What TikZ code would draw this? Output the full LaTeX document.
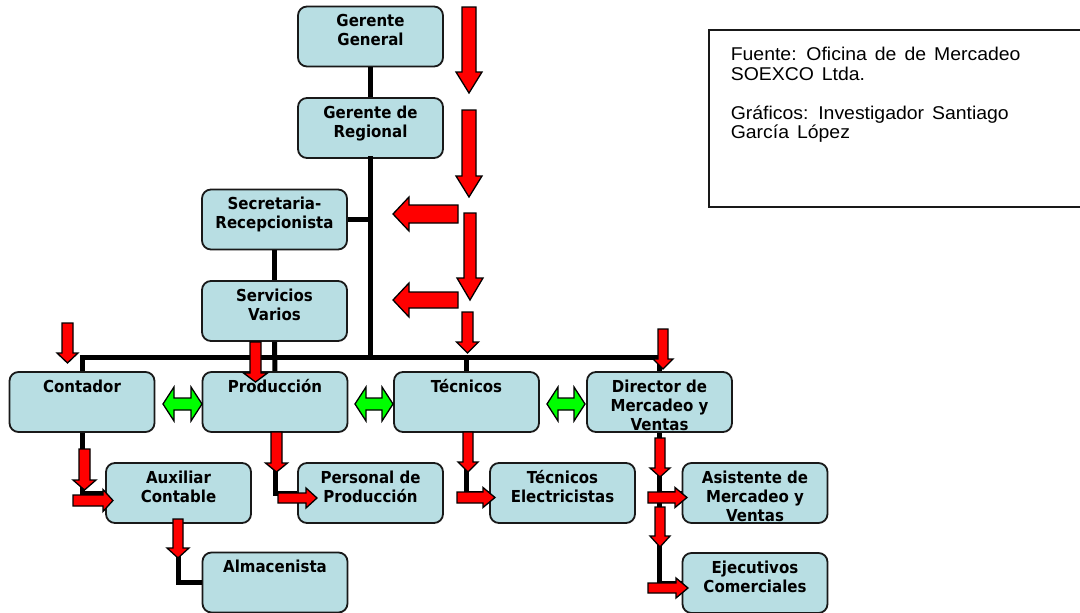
\documentclass[tikz,border=0pt]{standalone}
\usepackage{fontspec}
\newfontfamily\boxfont[FakeStretch=0.91]{DejaVu Sans}
\newfontfamily\notefont[FakeStretch=1.05]{Liberation Sans}
\definecolor{boxblue}{RGB}{184,222,227}
\definecolor{arrred}{RGB}{255,0,0}
\definecolor{arrgreen}{RGB}{0,255,0}
\newcommand\boxtxt[1]{\parbox[c][54pt][t]{140pt}{\centering\rule{0pt}{17pt}#1}}
% down arrow: x, ytop, ytip, shaft half, head half, head length
\newcommand\myDown[6]{\draw[redarr] (#1-#4,#2) -- (#1+#4,#2) -- (#1+#4,#3-#6) -- (#1+#5,#3-#6) -- (#1,#3) -- (#1-#5,#3-#6) -- (#1-#4,#3-#6) -- cycle;}
% right arrow: y, xstart, xtip, shaft half, head half, head length
\newcommand\myRight[6]{\draw[redarr] (#2,#1-#4) -- (#3-#6,#1-#4) -- (#3-#6,#1-#5) -- (#3,#1) -- (#3-#6,#1+#5) -- (#3-#6,#1+#4) -- (#2,#1+#4) -- cycle;}
% left arrow: y, xstart(right), xtip(left), shaft half, head half, head length
\newcommand\myLeft[6]{\draw[redarr] (#2,#1-#4) -- (#3+#6,#1-#4) -- (#3+#6,#1-#5) -- (#3,#1) -- (#3+#6,#1+#5) -- (#3+#6,#1+#4) -- (#2,#1+#4) -- cycle;}
% double arrow: y, xleft, xright, shaft half, head half, head length
\newcommand\myDouble[6]{\draw[greenarr] (#2,#1) -- (#2+#6,#1-#5) -- (#2+#6,#1-#4) -- (#3-#6,#1-#4) -- (#3-#6,#1-#5) -- (#3,#1) -- (#3-#6,#1+#5) -- (#3-#6,#1+#4) -- (#2+#6,#1+#4) -- (#2+#6,#1+#5) -- cycle;}
\begin{document}
\begin{tikzpicture}[x=1pt,y=-1pt,
  box/.style={draw=black!90, line width=1.8pt, rounded corners=9pt, fill=boxblue,
    minimum width=145pt, minimum height=60pt, inner sep=0pt,
    font=\boxfont\bfseries\fontsize{16.5}{19}\selectfont},
  conn/.style={draw=black, line width=5pt, line join=miter},
  redarr/.style={draw=black, line width=1.3pt, fill=arrred, line join=miter},
  greenarr/.style={draw=black, line width=1.3pt, fill=arrgreen, line join=miter},
  note/.style={draw=black!90, line width=1.6pt, anchor=north west, inner sep=0pt,
    minimum width=374pt, minimum height=177pt,
    font=\notefont\fontsize{18.5}{19.5}\selectfont}]
\useasboundingbox (0,0) rectangle (1080,613);
\fill[white] (0,0) rectangle (1080,613);

% boxes
\node[box] (gg)   at (370.5,36.5) {\boxtxt{Gerente\\General}};
\node[box] (gr)   at (370.5,128)  {\boxtxt{Gerente de\\Regional}};
\node[box] (sec)  at (274.5,219.5){\boxtxt{Secretaria-\\Recepcionista}};
\node[box] (serv) at (274.5,311)  {\boxtxt{Servicios\\Varios}};
\node[box] (cont) at (82,402)     {\boxtxt{Contador}};
\node[box] (prod) at (275,402)    {\boxtxt{Producción}};
\node[box] (tec)  at (466.5,402)  {\boxtxt{Técnicos}};
\node[box] (dir)  at (659.5,402)  {\boxtxt{Director de\\Mercadeo y\\Ventas}};
\node[box] (aux)  at (178.5,493)  {\boxtxt{Auxiliar\\Contable}};
\node[box] (pers) at (370.5,493)  {\boxtxt{Personal de\\Producción}};
\node[box] (tel)  at (562.5,493)  {\boxtxt{Técnicos\\Electricistas}};
\node[box] (asis) at (755,493)    {\boxtxt{Asistente de\\Mercadeo y\\Ventas}};
\node[box] (alm)  at (275,582.5)  {\boxtxt{Almacenista}};
\node[box] (ejec) at (755,583)    {\boxtxt{Ejecutivos\\Comerciales}};

\node[note] (src) at (708,29) {\hspace*{20pt}\parbox[c][177pt][t]{350pt}{\raggedright\spaceskip=8pt plus 2pt\rule{0pt}{31pt}Fuente: Oficina de de Mercadeo\\SOEXCO Ltda.\\\mbox{}\\Gráficos: Investigador Santiago\\García López}};

% connectors
\coordinate (bus) at (370.5,357);
\draw[conn] (gg) -- (gr);
\draw[conn, line cap=rect] (gr) -- (bus);
\draw[conn] (sec.east) -- (sec.east -| gr.south);
\draw[conn] (sec) -- (serv);
\draw[conn] (serv) -- (prod);
\draw[conn] (cont.north) |- (bus);
\draw[conn] (dir.north) |- (bus);
\draw[conn] (tec.north) -- (tec.north |- bus);
\draw[conn] (cont.south) |- (aux.west);
\draw[conn] (aux.south) |- (alm.west);
\draw[conn] (prod.south) |- (pers.west);
\draw[conn] (tec.south) |- (tel.west);
\draw[conn] (dir.south) |- (asis.west);
\draw[conn] (dir.south) |- (ejec.west);

% red arrows
\myDown{469}{7}{93}{7}{13}{21}
\myDown{469}{110}{197}{7}{13}{21}
\myDown{470}{213}{300}{6}{13}{22}
\myDown{467.5}{312}{353}{5.5}{11}{11}
\myDown{67.5}{323}{363}{5.5}{10.5}{10}
\myDown{255.5}{342}{382}{5.5}{12}{9}
\myDown{663}{329}{369}{5}{10}{10}
\myDown{84.5}{449}{490}{5.5}{11.5}{10}
\myDown{178}{519}{558}{5}{11}{10}
\myDown{276.5}{432}{472}{5.5}{11}{9}
\myDown{468}{432}{472}{5}{10}{10}
\myDown{660}{438}{477}{5}{10}{9}
\myDown{660}{507}{547}{5}{10}{11}
\myRight{500.5}{73}{113}{5.5}{11}{10}
\myRight{498}{278}{317}{5}{10}{11}
\myRight{497.5}{457}{495}{5.5}{10}{12}
\myRight{497.5}{648}{687}{5.5}{10}{12}
\myRight{588}{648}{688}{5}{10}{12}
\myLeft{214}{458}{393}{9}{17}{16}
\myLeft{300}{458}{393}{8}{17}{16}
\myDouble{404}{163}{202}{6}{17}{11}
\myDouble{404}{355}{393}{6}{17}{11}
\myDouble{404}{547}{585}{6}{17}{11}
\end{tikzpicture}
\end{document}
